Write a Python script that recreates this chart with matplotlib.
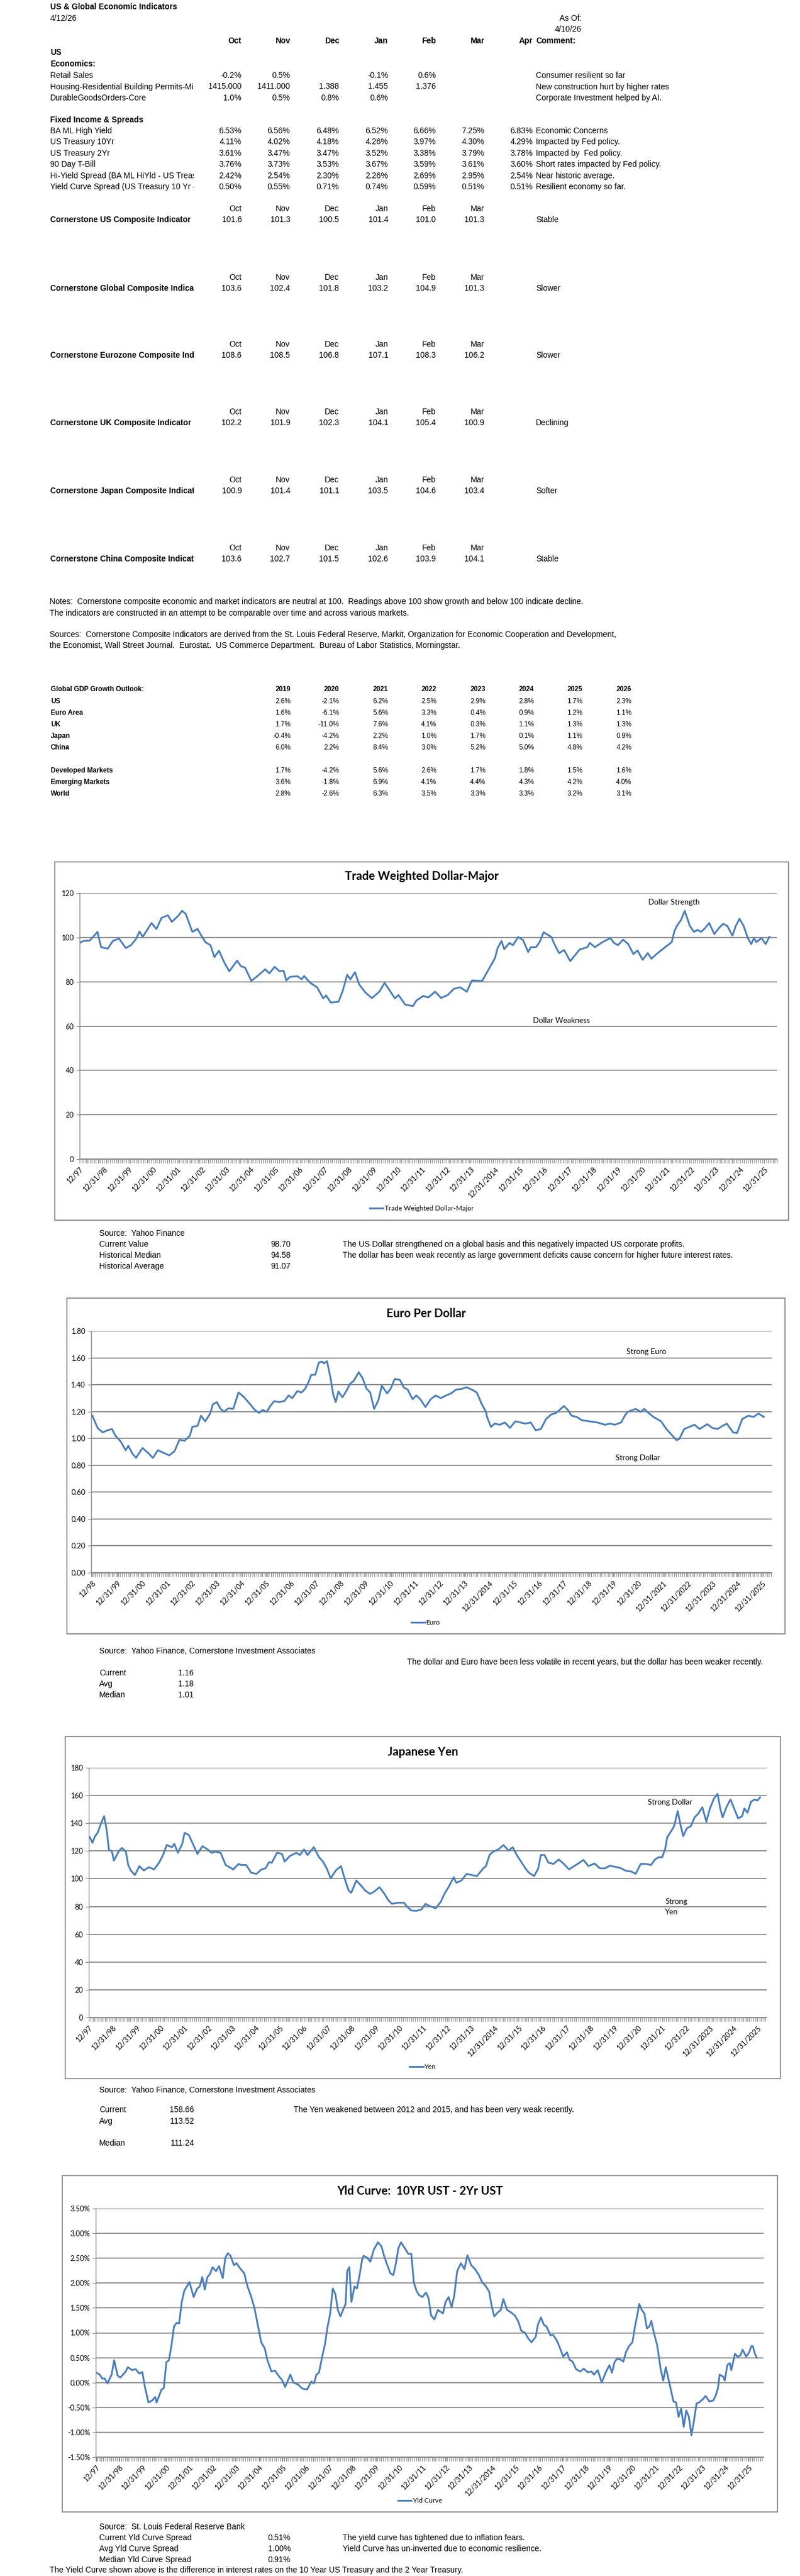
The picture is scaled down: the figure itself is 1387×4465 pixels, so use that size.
import numpy as np
import matplotlib.pyplot as plt
from matplotlib.patches import Rectangle
from matplotlib.transforms import Bbox, TransformedBbox

plt.rcParams['font.family'] = ['Lato', 'DejaVu Sans']

# ---------------- table data ----------------
months = ['Oct', 'Nov', 'Dec', 'Jan', 'Feb', 'Mar']

econ_labels = ['Retail Sales', 'Housing-Residential Building Permits-Millions', 'DurableGoodsOrders-Core']
retail = [-0.2, 0.5, None, -0.1, 0.6, None, None]
housing = [1415.000, 1411.000, 1.388, 1.455, 1.376, None, None]
durable = [1.0, 0.5, 0.8, 0.6, None, None, None]
econ_comments = ['Consumer resilient so far', 'New construction hurt by higher rates',
                 'Corporate Investment helped by AI.']

fixed_labels = ['BA ML High Yield', 'US Treasury 10Yr', 'US Treasury 2Yr', '90 Day T-Bill',
                'Hi-Yield Spread (BA ML HiYld - US Treasury 10Yr)',
                'Yield Curve Spread (US Treasury 10 Yr - 2 Yr)']
fixed_values = [
    [6.53, 6.56, 6.48, 6.52, 6.66, 7.25, 6.83],
    [4.11, 4.02, 4.18, 4.26, 3.97, 4.30, 4.29],
    [3.61, 3.47, 3.47, 3.52, 3.38, 3.79, 3.78],
    [3.76, 3.73, 3.53, 3.67, 3.59, 3.61, 3.60],
    [2.42, 2.54, 2.30, 2.26, 2.69, 2.95, 2.54],
    [0.50, 0.55, 0.71, 0.74, 0.59, 0.51, 0.51],
]
fixed_comments = ['Economic Concerns', 'Impacted by Fed policy.', 'Impacted by  Fed policy.',
                  'Short rates impacted by Fed policy.', 'Near historic average.',
                  'Resilient economy so far.']

comp_labels = ['Cornerstone US Composite Indicator', 'Cornerstone Global Composite Indicator',
               'Cornerstone Eurozone Composite Indicator', 'Cornerstone UK Composite Indicator',
               'Cornerstone Japan Composite Indicator', 'Cornerstone China Composite Indicator']
comp_values = [
    [101.6, 101.3, 100.5, 101.4, 101.0, 101.3],
    [103.6, 102.4, 101.8, 103.2, 104.9, 101.3],
    [108.6, 108.5, 106.8, 107.1, 108.3, 106.2],
    [102.2, 101.9, 102.3, 104.1, 105.4, 100.9],
    [100.9, 101.4, 101.1, 103.5, 104.6, 103.4],
    [103.6, 102.7, 101.5, 102.6, 103.9, 104.1],
]
comp_comments = ['Stable', 'Slower', 'Slower', 'Declining', 'Softer', 'Stable']

gdp_years = ['2019', '2020', '2021', '2022', '2023', '2024', '2025', '2026']
gdp_names = ['US', 'Euro Area', 'UK', 'Japan', 'China', None, 'Developed Markets', 'Emerging Markets', 'World']
gdp_values = [
    [2.6, -2.1, 6.2, 2.5, 2.9, 2.8, 1.7, 2.3],
    [1.6, -6.1, 5.6, 3.3, 0.4, 0.9, 1.2, 1.1],
    [1.7, -11.0, 7.6, 4.1, 0.3, 1.1, 1.3, 1.3],
    [-0.4, -4.2, 2.2, 1.0, 1.7, 0.1, 1.1, 0.9],
    [6.0, 2.2, 8.4, 3.0, 5.2, 5.0, 4.8, 4.2],
    None,
    [1.7, -4.2, 5.6, 2.6, 1.7, 1.8, 1.5, 1.6],
    [3.6, -1.8, 6.9, 4.1, 4.4, 4.3, 4.2, 4.0],
    [2.8, -2.6, 6.3, 3.5, 3.3, 3.3, 3.2, 3.1],
]

# ---------------- series data (decimal year, value) ----------------
twd = [(1997.92, 97.5), (1998.07, 98.4), (1998.34, 98.6), (1998.65, 102.5), (1998.80, 95.6),
       (1999.07, 94.9), (1999.28, 98.4), (1999.53, 99.5), (1999.81, 95.2), (2000.02, 96.5),
       (2000.23, 99.3), (2000.37, 102.7), (2000.50, 100.2), (2000.86, 106.5), (2001.06, 103.8),
       (2001.27, 108.8), (2001.53, 110.0), (2001.69, 107.0), (2001.95, 109.7), (2002.11, 112.0),
       (2002.26, 110.6), (2002.53, 102.5), (2002.74, 103.8), (2003.06, 97.9), (2003.27, 96.5),
       (2003.43, 91.1), (2003.62, 94.0), (2003.83, 88.8), (2004.04, 84.7), (2004.36, 89.5),
       (2004.52, 87.0), (2004.69, 86.3), (2004.94, 80.4), (2005.15, 82.2), (2005.51, 85.6),
       (2005.68, 83.8), (2005.89, 86.7), (2006.10, 84.7), (2006.26, 85.0), (2006.37, 80.6),
       (2006.52, 82.2), (2006.83, 82.5), (2007.00, 81.1), (2007.10, 82.6), (2007.35, 79.5),
       (2007.63, 77.5), (2007.88, 72.5), (2008.00, 73.8), (2008.19, 70.6), (2008.51, 71.0),
       (2008.68, 76.0), (2008.86, 83.1), (2008.99, 81.1), (2009.18, 84.3), (2009.35, 78.8),
       (2009.60, 75.2), (2009.87, 72.6), (2010.18, 75.6), (2010.39, 79.5), (2010.60, 76.0),
       (2010.81, 72.5), (2010.96, 74.0), (2011.23, 69.7), (2011.55, 69.0), (2011.69, 71.5),
       (2011.97, 73.6), (2012.18, 72.9), (2012.45, 75.5), (2012.70, 72.7), (2012.97, 74.0),
       (2013.22, 76.8), (2013.48, 77.5), (2013.75, 75.5), (2013.96, 80.6), (2014.38, 80.4),
       (2014.69, 86.5), (2014.90, 90.6), (2015.01, 95.2), (2015.17, 98.4), (2015.28, 94.7),
       (2015.49, 97.5), (2015.64, 96.5), (2015.85, 100.2), (2016.05, 98.8), (2016.26, 93.4),
       (2016.37, 95.6), (2016.58, 95.6), (2016.73, 97.9), (2016.89, 102.3), (2017.21, 100.2),
       (2017.31, 97.5), (2017.52, 92.9), (2017.73, 94.3), (2017.98, 89.3), (2018.36, 94.5),
       (2018.68, 95.6), (2018.78, 97.5), (2018.99, 95.6), (2019.30, 97.9), (2019.62, 99.7),
       (2019.77, 97.5), (2019.93, 96.5), (2020.14, 99.0), (2020.35, 97.0), (2020.56, 92.5),
       (2020.73, 94.1), (2020.94, 89.9), (2021.15, 92.9), (2021.30, 90.4), (2021.51, 92.5),
       (2021.71, 94.3), (2021.92, 96.1), (2022.13, 97.9), (2022.24, 102.9), (2022.34, 105.2),
       (2022.51, 107.9), (2022.66, 112.0), (2022.87, 105.2), (2023.04, 102.5), (2023.18, 103.4),
       (2023.33, 102.5), (2023.50, 104.3), (2023.66, 106.5), (2023.87, 101.5), (2024.08, 104.5),
       (2024.23, 106.1), (2024.40, 105.2), (2024.61, 100.8), (2024.75, 105.2), (2024.90, 108.4),
       (2025.07, 105.2), (2025.24, 99.7), (2025.38, 97.0), (2025.49, 99.7), (2025.59, 97.9),
       (2025.80, 99.7), (2025.97, 97.0), (2026.12, 100.2)]

euro = [(1998.92, 1.169), (1999.13, 1.078), (1999.33, 1.045), (1999.54, 1.061), (1999.71, 1.070),
        (1999.85, 1.020), (2000.06, 0.978), (2000.26, 0.912), (2000.37, 0.945), (2000.53, 0.888),
        (2000.68, 0.855), (2000.94, 0.929), (2001.19, 0.888), (2001.36, 0.855), (2001.56, 0.912),
        (2001.81, 0.891), (2002.02, 0.874), (2002.23, 0.904), (2002.43, 0.990), (2002.64, 0.983),
        (2002.85, 1.020), (2002.95, 1.086), (2003.16, 1.094), (2003.30, 1.169), (2003.47, 1.127),
        (2003.67, 1.185), (2003.78, 1.255), (2003.94, 1.270), (2004.09, 1.220), (2004.23, 1.198),
        (2004.40, 1.224), (2004.60, 1.220), (2004.81, 1.342), (2005.02, 1.310), (2005.28, 1.255),
        (2005.47, 1.212), (2005.64, 1.190), (2005.78, 1.212), (2005.95, 1.198), (2006.09, 1.241),
        (2006.25, 1.277), (2006.46, 1.270), (2006.67, 1.280), (2006.83, 1.320), (2006.98, 1.300),
        (2007.18, 1.352), (2007.35, 1.342), (2007.49, 1.368), (2007.64, 1.421), (2007.74, 1.472),
        (2007.91, 1.475), (2008.05, 1.565), (2008.18, 1.572), (2008.26, 1.558), (2008.38, 1.575),
        (2008.53, 1.443), (2008.63, 1.328), (2008.73, 1.270), (2008.84, 1.350), (2009.00, 1.306),
        (2009.15, 1.350), (2009.31, 1.407), (2009.46, 1.429), (2009.66, 1.493), (2009.81, 1.450),
        (2009.97, 1.371), (2010.12, 1.342), (2010.28, 1.220), (2010.45, 1.284), (2010.59, 1.393),
        (2010.80, 1.335), (2010.95, 1.371), (2011.11, 1.443), (2011.32, 1.436), (2011.48, 1.378),
        (2011.63, 1.364), (2011.83, 1.292), (2011.98, 1.320), (2012.14, 1.292), (2012.35, 1.234),
        (2012.56, 1.292), (2012.76, 1.320), (2012.97, 1.300), (2013.18, 1.320), (2013.38, 1.335),
        (2013.59, 1.364), (2013.80, 1.368), (2014.00, 1.381), (2014.21, 1.364), (2014.42, 1.342),
        (2014.62, 1.255), (2014.79, 1.198), (2014.83, 1.160), (2014.99, 1.086), (2015.14, 1.110),
        (2015.35, 1.102), (2015.55, 1.119), (2015.76, 1.078), (2015.97, 1.127), (2016.17, 1.119),
        (2016.38, 1.110), (2016.59, 1.119), (2016.79, 1.061), (2017.00, 1.070), (2017.21, 1.144),
        (2017.41, 1.177), (2017.62, 1.190), (2017.93, 1.241), (2018.09, 1.212), (2018.24, 1.169),
        (2018.45, 1.160), (2018.65, 1.136), (2018.96, 1.127), (2019.27, 1.119), (2019.58, 1.102),
        (2019.79, 1.110), (2019.99, 1.102), (2020.24, 1.119), (2020.41, 1.177), (2020.51, 1.198),
        (2020.82, 1.220), (2021.03, 1.198), (2021.17, 1.220), (2021.34, 1.190), (2021.54, 1.160),
        (2021.85, 1.127), (2022.06, 1.070), (2022.27, 1.028), (2022.47, 0.987), (2022.58, 0.995),
        (2022.78, 1.070), (2022.99, 1.086), (2023.20, 1.102), (2023.40, 1.070), (2023.71, 1.106),
        (2023.92, 1.078), (2024.13, 1.070), (2024.33, 1.094), (2024.50, 1.110), (2024.75, 1.045),
        (2024.91, 1.040), (2025.12, 1.144), (2025.37, 1.169), (2025.57, 1.160), (2025.78, 1.185),
        (2025.99, 1.160)]

yen = [(1997.96, 129.9), (1998.07, 125.9), (1998.18, 130.7), (1998.29, 133.1), (1998.44, 140.3),
       (1998.56, 145.1), (1998.67, 134.7), (1998.76, 121.1), (1998.89, 119.5), (1998.97, 113.1),
       (1999.19, 120.3), (1999.31, 122.2), (1999.47, 119.5), (1999.57, 109.9), (1999.68, 105.9),
       (1999.85, 102.7), (2000.04, 109.1), (2000.22, 105.9), (2000.43, 108.3), (2000.65, 106.7),
       (2000.86, 111.5), (2001.03, 117.1), (2001.18, 124.3), (2001.40, 122.7), (2001.50, 125.1),
       (2001.65, 118.7), (2001.83, 125.1), (2001.93, 133.1), (2002.11, 131.5), (2002.32, 123.5),
       (2002.47, 117.9), (2002.68, 123.5), (2002.90, 121.1), (2003.05, 118.7), (2003.22, 119.5),
       (2003.44, 118.7), (2003.65, 109.9), (2003.97, 106.7), (2004.19, 110.7), (2004.29, 109.9),
       (2004.51, 109.9), (2004.72, 104.3), (2004.94, 103.5), (2005.15, 106.7), (2005.32, 107.5),
       (2005.47, 112.0), (2005.58, 111.5), (2005.80, 118.7), (2006.01, 117.9), (2006.12, 112.3),
       (2006.33, 116.3), (2006.61, 118.7), (2006.76, 117.1), (2006.93, 121.1), (2007.08, 117.1),
       (2007.34, 122.7), (2007.56, 115.5), (2007.73, 112.3), (2007.88, 107.5), (2008.05, 100.3),
       (2008.26, 105.9), (2008.48, 109.1), (2008.63, 100.3), (2008.80, 91.5), (2008.91, 89.9),
       (2009.12, 98.7), (2009.34, 94.7), (2009.49, 91.5), (2009.70, 89.1), (2009.87, 90.7),
       (2010.09, 93.9), (2010.30, 89.1), (2010.47, 84.3), (2010.62, 81.9), (2010.84, 82.7),
       (2011.12, 82.7), (2011.27, 79.5), (2011.42, 77.1), (2011.63, 76.8), (2011.85, 77.9),
       (2012.02, 81.9), (2012.19, 80.3), (2012.45, 78.7), (2012.66, 83.5), (2012.81, 89.1),
       (2012.98, 93.9), (2013.20, 101.1), (2013.31, 97.1), (2013.52, 98.7), (2013.74, 103.5),
       (2013.95, 102.7), (2014.17, 101.9), (2014.44, 107.5), (2014.55, 109.1), (2014.70, 117.1),
       (2014.85, 119.5), (2015.07, 121.1), (2015.28, 124.3), (2015.50, 120.3), (2015.67, 122.7),
       (2015.84, 117.1), (2015.99, 113.1), (2016.20, 107.5), (2016.35, 104.3), (2016.57, 101.9),
       (2016.74, 107.5), (2016.85, 117.1), (2017.00, 117.1), (2017.17, 111.5), (2017.38, 110.7),
       (2017.60, 113.9), (2017.81, 110.7), (2018.03, 106.7), (2018.24, 109.1), (2018.46, 111.5),
       (2018.63, 113.6), (2018.84, 109.1), (2019.10, 111.0), (2019.32, 107.5), (2019.53, 107.5),
       (2019.74, 109.4), (2019.96, 108.6), (2020.17, 107.8), (2020.39, 105.9), (2020.65, 105.1),
       (2020.82, 103.5), (2021.03, 110.7), (2021.25, 110.7), (2021.46, 109.9), (2021.63, 113.9),
       (2021.78, 115.5), (2021.93, 115.5), (2022.06, 121.9), (2022.14, 129.9), (2022.32, 134.7),
       (2022.43, 137.9), (2022.58, 148.8), (2022.71, 137.9), (2022.81, 130.7), (2022.96, 136.3),
       (2023.13, 137.9), (2023.29, 144.3), (2023.43, 146.7), (2023.61, 151.5), (2023.78, 141.1),
       (2023.93, 150.7), (2024.10, 157.9), (2024.25, 161.1), (2024.36, 150.7), (2024.46, 144.3),
       (2024.64, 152.3), (2024.79, 157.1), (2024.94, 150.7), (2025.11, 143.5), (2025.28, 145.1),
       (2025.37, 150.7), (2025.50, 147.5), (2025.65, 155.5), (2025.80, 157.1), (2025.92, 156.3),
       (2026.03, 158.7)]

yld = [(1997.92, 0.20), (1998.07, 0.16), (1998.18, 0.08), (1998.29, 0.08), (1998.40, -0.02),
       (1998.58, 0.16), (1998.69, 0.45), (1998.84, 0.14), (1998.95, 0.10), (1999.17, 0.21),
       (1999.28, 0.31), (1999.46, 0.25), (1999.61, 0.27), (1999.77, 0.18), (1999.90, 0.21),
       (2000.01, -0.09), (2000.16, -0.40), (2000.32, -0.36), (2000.45, -0.29), (2000.51, -0.40),
       (2000.65, -0.23), (2000.71, -0.15), (2000.82, -0.11), (2000.93, 0.41), (2001.04, 0.45),
       (2001.15, 0.75), (2001.26, 1.13), (2001.37, 1.20), (2001.48, 1.19), (2001.59, 1.62),
       (2001.70, 1.85), (2001.81, 1.93), (2001.92, 2.02), (2002.10, 1.72), (2002.25, 1.89),
       (2002.36, 1.93), (2002.47, 2.12), (2002.58, 1.87), (2002.69, 2.12), (2002.80, 2.18),
       (2002.91, 2.32), (2003.06, 2.24), (2003.19, 2.34), (2003.35, 2.10), (2003.46, 2.51),
       (2003.57, 2.60), (2003.68, 2.55), (2003.83, 2.36), (2003.94, 2.40), (2004.12, 2.28),
       (2004.27, 2.20), (2004.40, 1.95), (2004.56, 1.74), (2004.71, 1.50), (2004.84, 1.19),
       (2005.00, 0.81), (2005.15, 0.69), (2005.26, 0.46), (2005.44, 0.22), (2005.59, 0.24),
       (2005.77, 0.12), (2005.88, 0.06), (2006.03, -0.09), (2006.25, 0.16), (2006.38, 0.00),
       (2006.58, -0.04), (2006.76, -0.12), (2006.97, -0.14), (2007.15, 0.02), (2007.26, -0.02),
       (2007.37, 0.16), (2007.48, 0.20), (2007.63, 0.55), (2007.74, 0.78), (2007.85, 1.13),
       (2007.96, 1.39), (2008.07, 1.89), (2008.18, 1.78), (2008.29, 1.46), (2008.40, 1.33),
       (2008.51, 1.46), (2008.62, 1.58), (2008.69, 2.24), (2008.78, 2.32), (2008.87, 1.62),
       (2009.00, 1.93), (2009.11, 1.89), (2009.22, 2.16), (2009.33, 2.47), (2009.39, 2.55),
       (2009.55, 2.51), (2009.68, 2.43), (2009.83, 2.67), (2010.01, 2.82), (2010.16, 2.74),
       (2010.27, 2.55), (2010.38, 2.40), (2010.54, 2.20), (2010.67, 2.16), (2010.78, 2.40),
       (2010.89, 2.71), (2011.00, 2.82), (2011.15, 2.71), (2011.31, 2.59), (2011.44, 2.59),
       (2011.55, 2.01), (2011.66, 1.85), (2011.77, 1.76), (2011.92, 1.72), (2012.07, 1.81),
       (2012.18, 1.70), (2012.29, 1.35), (2012.43, 1.27), (2012.58, 1.46), (2012.80, 1.39),
       (2012.91, 1.62), (2013.04, 1.72), (2013.17, 1.52), (2013.28, 1.74), (2013.41, 2.24),
       (2013.57, 2.40), (2013.72, 2.28), (2013.85, 2.56), (2014.01, 2.36), (2014.18, 2.28),
       (2014.34, 2.16), (2014.49, 2.01), (2014.62, 1.95), (2014.78, 1.83), (2014.89, 1.54),
       (2015.00, 1.33), (2015.15, 1.41), (2015.28, 1.46), (2015.39, 1.68), (2015.55, 1.46),
       (2015.72, 1.41), (2015.88, 1.35), (2016.03, 1.23), (2016.16, 1.04), (2016.32, 1.00),
       (2016.47, 0.88), (2016.60, 0.81), (2016.78, 0.92), (2016.87, 1.16), (2017.00, 1.31),
       (2017.13, 1.16), (2017.24, 1.13), (2017.41, 0.95), (2017.52, 0.96), (2017.68, 0.85),
       (2017.79, 0.73), (2017.96, 0.52), (2018.12, 0.61), (2018.23, 0.46), (2018.36, 0.42),
       (2018.51, 0.27), (2018.69, 0.22), (2018.84, 0.28), (2019.00, 0.21), (2019.17, 0.22),
       (2019.28, 0.16), (2019.44, 0.25), (2019.61, 0.00), (2019.79, 0.21), (2019.94, 0.35),
       (2020.05, 0.20), (2020.16, 0.41), (2020.27, 0.48), (2020.43, 0.46), (2020.54, 0.42),
       (2020.65, 0.61), (2020.78, 0.73), (2020.93, 0.81), (2021.04, 1.13), (2021.15, 1.39),
       (2021.22, 1.58), (2021.33, 1.46), (2021.44, 1.39), (2021.55, 1.09), (2021.66, 1.13),
       (2021.74, 1.24), (2021.85, 1.00), (2021.99, 0.75), (2022.07, 0.50), (2022.14, 0.27),
       (2022.25, 0.04), (2022.36, 0.31), (2022.47, 0.08), (2022.58, -0.15), (2022.69, -0.38),
       (2022.80, -0.40), (2022.91, -0.69), (2023.02, -0.52), (2023.13, -0.89), (2023.24, -0.56),
       (2023.35, -0.69), (2023.46, -1.06), (2023.57, -0.77), (2023.68, -0.42), (2023.79, -0.40),
       (2023.94, -0.34), (2024.07, -0.27), (2024.23, -0.38), (2024.40, -0.36), (2024.51, -0.25),
       (2024.60, -0.11), (2024.67, 0.16), (2024.82, 0.12), (2024.89, 0.04), (2025.00, 0.35),
       (2025.11, 0.39), (2025.17, 0.25), (2025.33, 0.58), (2025.44, 0.52), (2025.55, 0.54),
       (2025.66, 0.66), (2025.81, 0.52), (2025.94, 0.61), (2026.03, 0.73), (2026.10, 0.73),
       (2026.18, 0.58), (2026.27, 0.50)]

twd_labels = ['12/97'] + ['12/31/%02d' % (y % 100) if y != 2014 else '12/31/2014' for y in range(1998, 2026)]
euro_labels = (['12/98'] + ['12/31/%02d' % (y % 100) if y != 2014 else '12/31/2014' for y in range(1999, 2021)]
               + ['12/31/%d' % y for y in range(2021, 2026)])
yen_labels = (['12/97'] + ['12/31/%02d' % (y % 100) if y != 2014 else '12/31/2014' for y in range(1998, 2023)]
              + ['12/31/%d' % y for y in range(2023, 2026)])
yld_labels = ['12/97'] + ['12/31/%02d' % (y % 100) if y != 2014 else '12/31/2014' for y in range(1998, 2026)]

# ---------------- page ----------------
W, H = 1387, 4465
fig = plt.figure(figsize=(W / 100, H / 100), dpi=100)
page = fig.add_axes([0, 0, 1, 1])
page.set_xlim(0, W)
page.set_ylim(H, 0)
page.axis('off')

ARIAL = ['Liberation Sans', 'DejaVu Sans']
label_clip = TransformedBbox(Bbox([[0, 0], [336 / W, 1]]), fig.transFigure)


def txt(x, y, s, ha='left', size=10, bold=False, clip=False):
    t = page.text(x, y, s, ha=ha, va='center', fontsize=size, family=ARIAL,
                  fontweight='bold' if bold else 'normal', color='black')
    if clip:
        t.set_clip_box(label_clip)
        t.set_clip_on(True)
    return t


def fmt(v, spec, suffix=''):
    return '' if v is None else format(v, spec) + suffix


cols = [419, 503, 588, 673, 756, 840, 924]

txt(87, 12, 'US & Global Economic Indicators', bold=True)
txt(87, 32, '4/12/26')
txt(1008, 32, 'As Of:', ha='right')
txt(1008, 51, '4/10/26', ha='right')
for x, m in zip(cols, months + ['Apr']):
    txt(x, 71, m, ha='right', bold=True)
txt(929, 71, 'Comment:', bold=True)
txt(87, 91, 'US', bold=True)
txt(87, 111, 'Economics:', bold=True)

econ_rows = [[fmt(v, '.1f', '%') for v in retail],
             [fmt(v, '.3f') for v in housing],
             [fmt(v, '.1f', '%') for v in durable]]
for i, (lab, vals, com) in enumerate(zip(econ_labels, econ_rows, econ_comments)):
    y = 131 + i * 19.5
    txt(87, y, lab, clip=True)
    for x, s in zip(cols, vals):
        txt(x, y, s, ha='right')
    txt(929, y, com)

txt(87, 208, 'Fixed Income & Spreads', bold=True)
for i, (lab, vals, com) in enumerate(zip(fixed_labels, fixed_values, fixed_comments)):
    y = 227 + i * 19.4
    txt(87, y, lab, clip=True)
    for x, v in zip(cols, vals):
        txt(x, y, fmt(v, '.2f', '%'), ha='right')
    txt(929, y, com)

comp_y = [381, 500, 616, 733, 851, 969]
for lab, vals, com, y in zip(comp_labels, comp_values, comp_comments, comp_y):
    for x, m in zip(cols, months):
        txt(x, y - 19, m, ha='right')
    txt(87, y, lab, bold=True, clip=True)
    for x, v in zip(cols, vals):
        txt(x, y, fmt(v, '.1f'), ha='right')
    txt(929, y, com)

txt(86, 1043, 'Notes:  Cornerstone composite economic and market indicators are neutral at 100.  '
    'Readings above 100 show growth and below 100 indicate decline.')
txt(86, 1063, 'The indicators are constructed in an attempt to be comparable over time and across various markets.')
txt(86, 1100, 'Sources:  Cornerstone Composite Indicators are derived from the St. Louis Federal Reserve, Markit, '
    'Organization for Economic Cooperation and Development,')
txt(86, 1119, 'the Economist, Wall Street Journal.  Eurostat.  US Commerce Department.  Bureau of Labor Statistics, Morningstar.')

gdp_cols = [504, 588, 673, 757, 842, 926, 1010, 1095]
txt(88, 1195, 'Global GDP Growth Outlook:', size=8.5, bold=True)
for x, yr in zip(gdp_cols, gdp_years):
    txt(x, 1195, yr, ha='right', size=8.5, bold=True)
for i, (name, vals) in enumerate(zip(gdp_names, gdp_values)):
    if name is None:
        continue
    y = 1216 + i * 20
    txt(88, y, name, size=8.5, bold=True)
    for x, v in zip(gdp_cols, vals):
        txt(x, y, fmt(v, '.1f', '%'), ha='right', size=8.5)

# ---------------- charts ----------------
BLUE = '#4A7EBB'
GRID = '#868686'


def chart(frame, title, title_y, plot, data, ylim, yticks, ylabels, xlim, x0, xlabels, legend_label, legend_y):
    l, t, r, b = frame
    page.add_patch(Rectangle((l, t), r - l, b - t, fill=False, ec=GRID, lw=1.3))
    page.text((l + r) / 2, title_y, title, ha='center', va='center', fontsize=14.5, fontweight='bold')
    pl, pt, pr, pb = plot
    ax = fig.add_axes([pl / W, 1 - pb / H, (pr - pl) / W, (pb - pt) / H])
    ax.patch.set_alpha(0)
    xs, ys = zip(*data)
    line, = ax.plot(xs, ys, color=BLUE, lw=2.2, label=legend_label)
    ax.set_ylim(*ylim)
    ax.set_yticks(yticks)
    ax.set_yticklabels(ylabels)
    ax.set_xlim(*xlim)
    ax.set_xticks([x0 + k for k in range(len(xlabels))])
    ax.set_xticklabels(xlabels, rotation=45, ha='right', va='top', rotation_mode='anchor')
    ax.set_xticks(np.arange(xlim[0], xlim[1], 1 / 12), minor=True)
    ax.yaxis.grid(True, color=GRID, lw=1.3)
    ax.set_axisbelow(True)
    for s in ('top', 'right'):
        ax.spines[s].set_visible(False)
    for s in ('left', 'bottom'):
        ax.spines[s].set_color(GRID)
        ax.spines[s].set_linewidth(1.0)
    ax.tick_params(axis='y', length=4, color=GRID, labelsize=9, pad=3)
    ax.tick_params(axis='x', which='both', length=5, color=GRID, width=0.8, labelsize=9, pad=3)
    fig.legend(handles=[line], loc='center', bbox_to_anchor=((l + r) / 2 / W, 1 - legend_y / H),
               frameon=False, fontsize=8.5, handlelength=2.0, handletextpad=0.2)
    return ax


ax1 = chart((95, 1494, 1367, 2115), 'Trade Weighted Dollar-Major', 1519, (138, 1548, 1347, 2009), twd,
            (0, 120), range(0, 121, 20), [str(v) for v in range(0, 121, 20)],
            (1997.92, 2026.43), 1997.92, twd_labels, 'Trade Weighted Dollar-Major', 2095)
ax1.text(2021.17, 115.8, 'Dollar Strength', fontsize=9.5, va='center')
ax1.text(2016.46, 62.5, 'Dollar Weakness', fontsize=9.5, va='center')

txt(172, 2138, 'Source:  Yahoo Finance')
twd_stats = [('Current Value', 98.70), ('Historical Median', 94.58), ('Historical Average', 91.07)]
for i, (lab, v) in enumerate(twd_stats):
    txt(172, 2157 + i * 19, lab)
    txt(504, 2157 + i * 19, '%.2f' % v, ha='right')
txt(594, 2157, 'The US Dollar strengthened on a global basis and this negatively impacted US corporate profits.')
txt(594, 2176, 'The dollar has been weak recently as large government deficits cause concern for higher future interest rates.')

ax2 = chart((116, 2250, 1361, 2832), 'Euro Per Dollar', 2277, (158, 2307, 1338, 2726), euro,
            (0, 1.8), np.arange(0, 1.81, 0.2), ['%.2f' % v for v in np.arange(0, 1.81, 0.2)],
            (1998.87, 2026.31), 1998.92, euro_labels, 'Euro', 2813)
ax2.text(2020.45, 1.645, 'Strong Euro', fontsize=9.5, va='center')
ax2.text(2020.01, 0.854, 'Strong Dollar', fontsize=9.5, va='center')

txt(172, 2862, 'Source:  Yahoo Finance, Cornerstone Investment Associates')
txt(1323, 2881, 'The dollar and Euro have been less volatile in recent years, but the dollar has been weaker recently.', ha='right')
euro_stats = [('Current', 1.16), ('Avg', 1.18), ('Median', 1.01)]
for i, (lab, v) in enumerate(euro_stats):
    txt(172, 2900 + i * 19, lab)
    txt(336, 2900 + i * 19, '%.2f' % v, ha='right')

ax3 = chart((113, 3010, 1353, 3603), 'Japanese Yen', 3037, (154, 3064, 1329, 3497), yen,
            (0, 180), range(0, 181, 20), [str(v) for v in range(0, 181, 20)],
            (1997.92, 2026.30), 1997.92, yen_labels, 'Yen', 3583)
ax3.text(2021.33, 155, 'Strong Dollar', fontsize=9.5, va='center')
ax3.text(2022.05, 83.6, 'Strong', fontsize=9.5, va='center')
ax3.text(2022.05, 76.1, 'Yen', fontsize=9.5, va='center')

txt(172, 3623, 'Source:  Yahoo Finance, Cornerstone Investment Associates')
yen_stats = [('Current', 158.66, 3657), ('Avg', 113.52, 3677), ('Median', 111.24, 3715)]
for lab, v, y in yen_stats:
    txt(172, y, lab)
    txt(336, y, '%.2f' % v, ha='right')
txt(509, 3657, 'The Yen weakened between 2012 and 2015, and has been very weak recently.')

ax4 = chart((108, 3771, 1348, 4354), 'Yld Curve:  10YR UST - 2Yr UST', 3798, (166, 3828, 1324, 4259), yld,
            (-1.5, 3.5), np.arange(-1.5, 3.51, 0.5), ['%.2f%%' % v for v in np.arange(-1.5, 3.51, 0.5)],
            (1997.90, 2026.56), 1997.92, yld_labels, 'Yld Curve', 4335)

txt(172, 4380, 'Source:  St. Louis Federal Reserve Bank')
yld_stats = [('Current Yld Curve Spread', 0.51), ('Avg Yld Curve Spread', 1.00), ('Median Yld Curve Spread', 0.91)]
for i, (lab, v) in enumerate(yld_stats):
    txt(172, 4399 + i * 19, lab)
    txt(504, 4399 + i * 19, '%.2f%%' % v, ha='right')
txt(594, 4399, 'The yield curve has tightened due to inflation fears.')
txt(594, 4418, 'Yield Curve has un-inverted due to economic resilience.')
txt(86, 4455, 'The Yield Curve shown above is the difference in interest rates on the 10 Year US Treasury and the 2 Year Treasury.')

fig.savefig('out.png', dpi=100)
